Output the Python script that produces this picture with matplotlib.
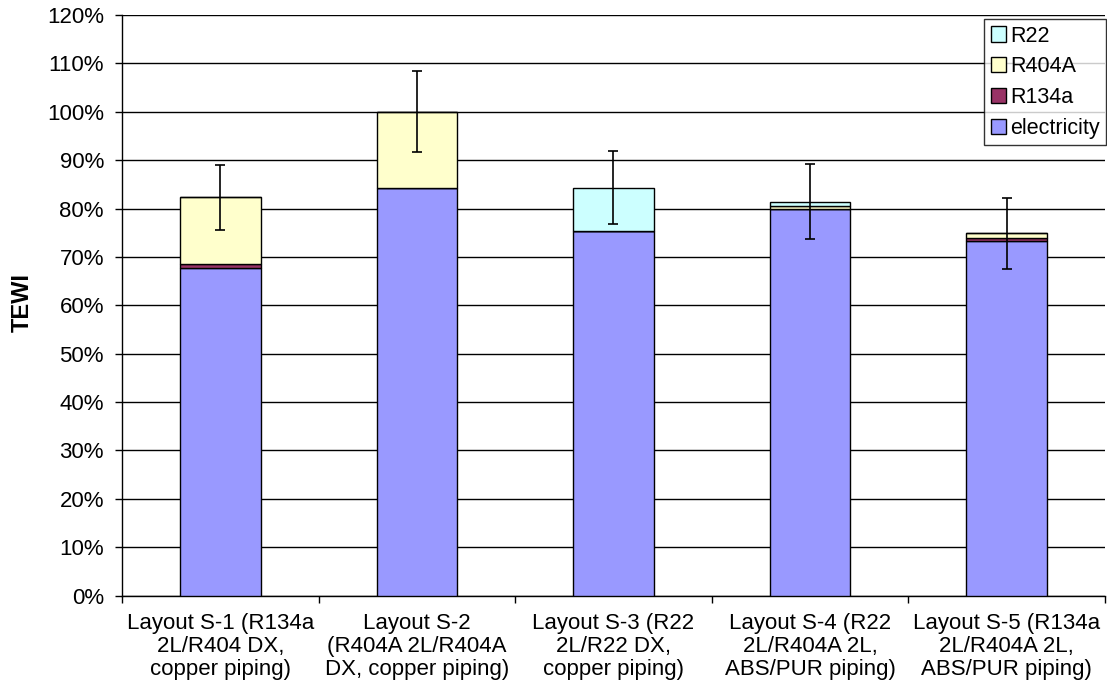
import numpy as np
import matplotlib
matplotlib.use("Agg")
import matplotlib.pyplot as plt
from matplotlib.ticker import PercentFormatter

plt.rcParams['font.family'] = ['Liberation Sans', 'DejaVu Sans']

# data (TEWI in % of layout S-2)
layouts = ['Layout S-1 (R134a\n2L/R404 DX,\ncopper piping)',
           'Layout S-2\n(R404A 2L/R404A\nDX, copper piping)',
           'Layout S-3 (R22\n2L/R22 DX,\ncopper piping)',
           'Layout S-4 (R22\n2L/R404A 2L,\nABS/PUR piping)',
           'Layout S-5 (R134a\n2L/R404A 2L,\nABS/PUR piping)']
electricity = [67.8, 84.3, 75.4, 79.8, 73.3]
r134a = [0.7, 0.0, 0.0, 0.0, 0.7]
r404a = [13.8, 15.7, 0.0, 0.7, 0.9]
r22 = [0.0, 0.0, 8.9, 0.9, 0.0]
errors = [6.7, 8.4, 7.6, 7.8, 7.3]

series = [('electricity', electricity, '#9999FF'),
          ('R134a', r134a, '#993366'),
          ('R404A', r404a, '#FFFFCC'),
          ('R22', r22, '#CCFFFF')]

fig = plt.figure(figsize=(11.07, 6.86), dpi=100)
ax = fig.add_axes([0.1102, 0.1319, 0.8880, 0.8462])

x = np.arange(len(layouts))
bottom = np.zeros(len(layouts))
handles = []
for name, vals, col in series:
    vals = np.array(vals)
    b = ax.bar(x, vals, width=0.41, bottom=bottom, color=col,
               edgecolor='black', linewidth=1.0, label=name, zorder=3)
    handles.append(b)
    bottom = bottom + vals

# error bars on the total
ax.errorbar(x, bottom, yerr=errors, fmt='none', ecolor='black',
            elinewidth=1.2, capsize=3.3, capthick=1.2, zorder=4)

ax.set_xlim(-0.5, len(layouts) - 0.5)
ax.set_ylim(0, 120)
ax.set_yticks(np.arange(0, 121, 10))
ax.yaxis.set_major_formatter(PercentFormatter(decimals=0))
ax.grid(axis='y', color='black', linewidth=1.0, zorder=0)
ax.set_axisbelow(True)

# category boundary ticks, labels centered between them
ax.set_xticks(np.arange(-0.5, len(layouts), 1.0))
ax.set_xticklabels([])
ax.set_xticks(x, minor=True)
ax.set_xticklabels(layouts, minor=True, fontsize=16, linespacing=1.12)
ax.tick_params(axis='x', which='minor', length=0, pad=12.5)
ax.tick_params(axis='x', which='major', direction='out', length=5, width=1)
ax.tick_params(axis='y', direction='out', length=5, width=1, labelsize=16, pad=8)

for s in ['top', 'right']:
    ax.spines[s].set_visible(False)
for s in ['left', 'bottom']:
    ax.spines[s].set_linewidth(1.0)

fig.text(22 / 1107, 1 - 303 / 686, 'TEWI', rotation=90, ha='center', va='center',
         fontsize=17, fontweight='bold')

leg = ax.legend(handles[::-1], [h.get_label() for h in handles[::-1]],
                loc='upper right', bbox_to_anchor=(1.001, 0.993), fontsize=15.5,
                frameon=True, fancybox=False, handlelength=0.7, handleheight=0.7,
                handletextpad=0.2, borderpad=0.3, labelspacing=0.45,
                borderaxespad=0)
leg.get_frame().set_edgecolor('black')
leg.get_frame().set_linewidth(1.0)

fig.savefig('out.png', dpi=100)
